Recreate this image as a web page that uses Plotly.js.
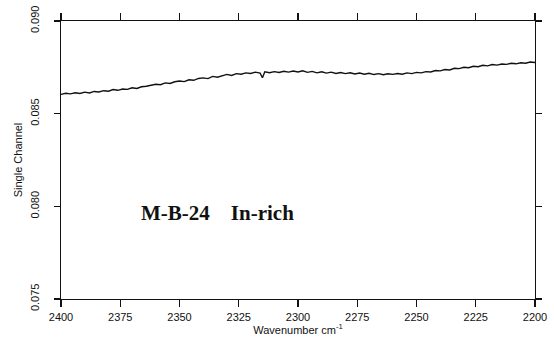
<!DOCTYPE html>
<html>
<head>
<meta charset="utf-8">
<script src="https://cdn.plot.ly/plotly-3.0.1.min.js"></script>
<style>html,body{margin:0;padding:0;background:#fff;}#chart{width:554px;height:350px;}</style>
</head>
<body>
<div id="chart"></div>
<script>
const wavenumber = [2400,2398,2396,2394,2392,2390,2388,2386,2384,2382,2380,2378,2376,2374,2372,2370,2368,2366,2364,2362,2360,2358,2356,2354,2352,2350,2348,2346,2344,2342,2340,2338,2336,2334,2332,2330,2328,2326,2324,2322,2320,2318,2316,2315,2314,2312,2310,2308,2306,2304,2302,2300,2298,2296,2294,2292,2290,2288,2286,2284,2282,2280,2278,2276,2274,2272,2270,2268,2266,2264,2262,2260,2258,2256,2254,2252,2250,2248,2246,2244,2242,2240,2238,2236,2234,2232,2230,2228,2226,2224,2222,2220,2218,2216,2214,2212,2210,2208,2206,2204,2202,2200];
const signal = [0.08604,0.08610,0.08607,0.08613,0.08609,0.08616,0.08612,0.08620,0.08617,0.08624,0.08621,0.08630,0.08626,0.08633,0.08631,0.08640,0.08636,0.08645,0.08648,0.08654,0.08659,0.08656,0.08666,0.08663,0.08672,0.08676,0.08673,0.08683,0.08680,0.08690,0.08693,0.08689,0.08701,0.08697,0.08706,0.08712,0.08706,0.08716,0.08713,0.08720,0.08717,0.08724,0.08719,0.08694,0.08726,0.08721,0.08727,0.08722,0.08729,0.08724,0.08730,0.08725,0.08731,0.08723,0.08728,0.08720,0.08726,0.08719,0.08724,0.08717,0.08722,0.08716,0.08721,0.08714,0.08719,0.08713,0.08718,0.08711,0.08716,0.08710,0.08715,0.08712,0.08717,0.08713,0.08720,0.08716,0.08723,0.08720,0.08727,0.08725,0.08733,0.08731,0.08738,0.08736,0.08745,0.08743,0.08750,0.08748,0.08756,0.08753,0.08761,0.08758,0.08765,0.08762,0.08768,0.08766,0.08772,0.08769,0.08775,0.08772,0.08779,0.08776];
const xTicks = [2400,2375,2350,2325,2300,2275,2250,2225,2200];
const yTicks = [0.075,0.080,0.085,0.090];
const yTickText = ["0.075","0.080","0.085","0.090"];
const sampleLabel = "<b>M-B-24&nbsp;&nbsp;&nbsp;&nbsp;In-rich</b>";

const tickFont = {family:"Liberation Sans Narrow, Liberation Sans, Arial, sans-serif", size:11, color:"#111"};
Plotly.newPlot("chart", [{
  x: wavenumber, y: signal, type:"scatter", mode:"lines",
  line:{color:"#111", width:1.4}, hoverinfo:"skip"
}], {
  width:554, height:350,
  margin:{l:61, r:19, t:21, b:51},
  paper_bgcolor:"#fff", plot_bgcolor:"#fff",
  showlegend:false,
  xaxis:{range:[2400,2200], tickvals:xTicks, ticktext:xTicks.map(String),
    ticks:"outside", ticklen:7, tickwidth:1.2, tickcolor:"#111",
    showline:true, linecolor:"#111", linewidth:1.3, mirror:"ticks",
    showgrid:false, zeroline:false, tickfont:tickFont,
    title:{text:"Wavenumber cm<sup>-1</sup>", font:tickFont, standoff:4}},
  yaxis:{range:[0.075,0.090], tickvals:yTicks, ticktext:yTickText, tickangle:-90,
    ticks:"outside", ticklen:6, tickwidth:1.2, tickcolor:"#111",
    showline:true, linecolor:"#111", linewidth:1.3, mirror:"ticks",
    showgrid:false, zeroline:false, tickfont:tickFont, ticklabelstandoff:10,
    title:{text:"Single Channel", font:tickFont, standoff:4}},
  annotations:[{x:2334, y:0.07964, xref:"x", yref:"y", text:sampleLabel, showarrow:false,
    font:{family:"Liberation Serif, Times New Roman, serif", size:21, color:"#111"}}]
}, {displayModeBar:false, staticPlot:true});
</script>
</body>
</html>
